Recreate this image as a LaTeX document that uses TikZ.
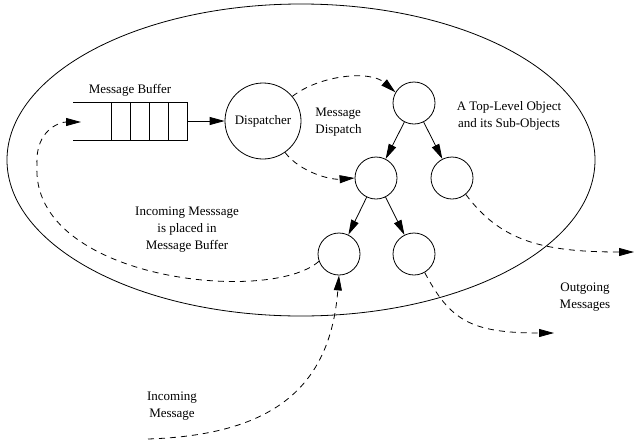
\documentclass[tikz,border=0pt]{standalone}
\usepackage{fontspec}
\setmainfont{Liberation Serif}
\usetikzlibrary{arrows.meta}
\begin{document}
\begin{tikzpicture}[x=1pt,y=-1pt,line width=0.8pt,
  obj/.style={circle,draw,inner sep=0pt,minimum size=42pt},
  lbl/.style={font=\fontsize{13}{17}\selectfont,align=center,inner sep=0pt},
  tip/.style={-{Triangle[length=15pt,width=8pt]}},
  flow/.style={tip,dashed,dash pattern=on 6pt off 5pt}]
\useasboundingbox (0,0) rectangle (637,445);
% outer object boundary
\draw (301,160) ellipse [x radius=294, y radius=156];
% message buffer
\draw (73,102) -- (187,102) -- (187,140) -- (73,140);
\foreach \xx in {111,130,149,168} \draw (\xx,102) -- (\xx,140);
\coordinate (bufR) at (187,121);
\coordinate (bufIn) at (81,122);
\node[lbl] (buflbl) at (130,90) {Message Buffer};
% nodes
\node[circle,draw,inner sep=0pt,minimum size=76pt,font=\fontsize{13}{17}\selectfont] (disp) at (263,121) {Dispatcher};
\node[obj] (top) at (414,103) {};
\node[obj] (lc) at (376,178) {};
\node[obj] (rc) at (452,178) {};
\node[obj] (bl) at (339,254) {};
\node[obj] (br) at (414,254) {};
% labels
\node[lbl,align=left,anchor=west] (dlbl) at (315,122) {Message\\Dispatch};
\node[lbl] (tlbl) at (509,116) {A Top-Level Object\\and its Sub-Objects};
\node[lbl] (ilbl) at (187,230) {Incoming Messsage\\is placed in\\Message Buffer};
\node[lbl] (inlbl) at (172,406) {Incoming\\Message};
\node[lbl] (olbl) at (585,297) {Outgoing\\Messages};
% solid arrows
\draw[tip] (bufR) -- (disp);
\draw[tip] (top) -- (lc);
\draw[tip] (top) -- (rc);
\draw[tip] (lc) -- (bl);
\draw[tip] (lc) -- (br);
% dashed message flows
\coordinate (out1) at (634,252);
\coordinate (out2) at (554,333);
\coordinate (in0) at (148,439);
\coordinate (loopL) at (37,165);
\draw[flow] (disp.40) .. controls (320,75) and (370,70) .. (top.150);
\draw[flow] (disp.-55) .. controls (300,172) and (330,180) .. (lc.west);
\draw[flow] (rc.-50) .. controls (500,240) and (540,252) .. (out1);
\draw[flow] (br.-60) .. controls (450,320) and (470,333) .. (out2);
\draw[flow] (in0) .. controls (270,435) and (330,390) .. (bl.south);
\draw[flow] (bl.200) .. controls (270,305) and (30,280) .. (loopL)
   .. controls (35,130) and (60,122) .. (bufIn);
\end{tikzpicture}
\end{document}
